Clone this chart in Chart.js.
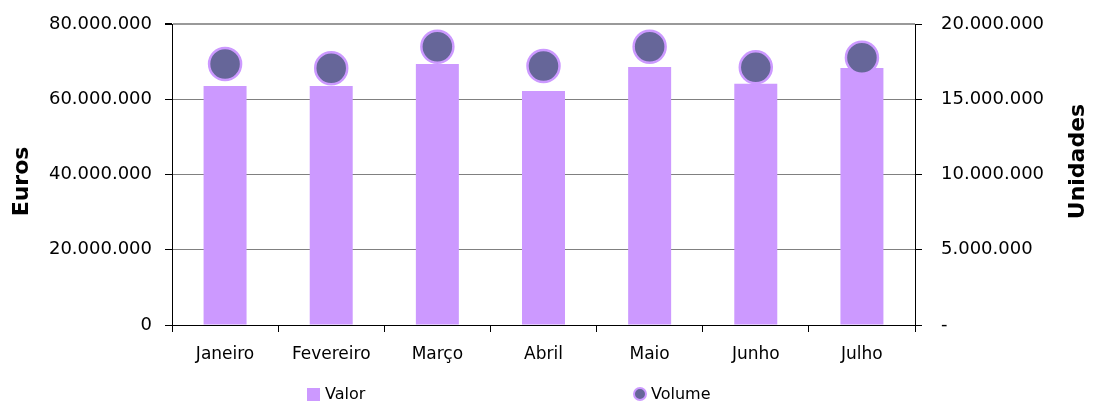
<!DOCTYPE html>
<html>
<head>
<meta charset="utf-8">
<script src="https://cdn.jsdelivr.net/npm/chart.js@4/dist/chart.umd.min.js"></script>
<style>
html, body { margin: 0; padding: 0; background: #fff; }
#c1 { display: block; }
</style>
</head>
<body>
<canvas id="c1" width="1093" height="403"></canvas>
<script>
let meses = ['Janeiro', 'Fevereiro', 'Março', 'Abril', 'Maio', 'Junho', 'Julho'];
let valor = [63500000, 63500000, 69400000, 62200000, 68600000, 64100000, 68300000];
let volume = [17340000, 17060000, 18490000, 17210000, 18490000, 17120000, 17760000];

let eurosMax = 80000000;
let eurosStep = 20000000;
let unidMax = 20000000;
let unidStep = 5000000;

let fonte = '"DejaVu Sans", sans-serif';
let lilas = '#CC99FF';
let roxo = '#666699';

function pontos(n) {
    return String(n).replace(/\B(?=(\d{3})+(?!\d))/g, '.');
}

// titulos dos eixos e legenda desenhados a mao
let extras = {
    id: 'extras',
    afterDraw(chart) {
        let ctx = chart.ctx;
        let a = chart.chartArea;
        ctx.save();
        ctx.fillStyle = '#000';
        ctx.font = 'bold 22px ' + fonte;
        ctx.textAlign = 'center';
        ctx.textBaseline = 'middle';

        ctx.save();
        ctx.translate(22, (a.top + a.bottom) / 2 + 7);
        ctx.rotate(-Math.PI / 2);
        ctx.fillText('Euros', 0, 0);
        ctx.restore();

        ctx.save();
        ctx.translate(1078, (a.top + a.bottom) / 2 - 13);
        ctx.rotate(-Math.PI / 2);
        ctx.fillText('Unidades', 0, 0);
        ctx.restore();

        // legenda
        ctx.font = '16px ' + fonte;
        ctx.textAlign = 'left';
        ctx.fillStyle = lilas;
        ctx.fillRect(307, 388, 13, 13);
        ctx.fillStyle = '#000';
        ctx.fillText('Valor', 325, 395);

        ctx.beginPath();
        ctx.arc(640, 394, 6, 0, Math.PI * 2);
        ctx.fillStyle = roxo;
        ctx.fill();
        ctx.lineWidth = 2;
        ctx.strokeStyle = lilas;
        ctx.stroke();
        ctx.fillStyle = '#000';
        ctx.fillText('Volume', 651, 395);
        ctx.restore();
    }
};

let c1 = document.querySelector('#c1');
let opts = {
    type: 'bar',
    data: {
        labels: meses,
        datasets: [
            {
                type: 'line',
                label: 'Volume',
                data: volume,
                yAxisID: 'y2',
                showLine: false,
                pointRadius: 16,
                pointHoverRadius: 16,
                pointBackgroundColor: roxo,
                pointBorderColor: lilas,
                pointBorderWidth: 2.5,
                order: 0,
            },
            {
                label: 'Valor',
                data: valor,
                yAxisID: 'y',
                backgroundColor: lilas,
                barPercentage: 0.405,
                categoryPercentage: 1,
                order: 1,
            },
        ],
    },
    options: {
        responsive: false,
        animation: false,
        devicePixelRatio: 1,
        layout: { padding: { top: 24, left: 0, right: 0, bottom: 0 } },
        plugins: {
            legend: { display: false },
            tooltip: { enabled: false },
        },
        scales: {
            x: {
                grid: { drawOnChartArea: false, tickLength: 7, color: '#000' },
                border: { color: '#000' },
                ticks: { color: '#000', font: { family: fonte, size: 17 }, padding: 12, maxRotation: 0 },
                afterFit: (s) => { s.height = 78; s.paddingLeft = 0; s.paddingRight = 0; },
            },
            y: {
                position: 'left',
                min: 0,
                max: eurosMax,
                grid: {
                    tickLength: 7,
                    tickColor: '#000',
                    color: (c) => c.tick && c.tick.value == 0 ? '#000' : (c.tick && c.tick.value == eurosMax ? '#999' : '#808080'),
                    lineWidth: (c) => c.tick && c.tick.value == eurosMax ? 2 : 1,
                },
                border: { color: '#000' },
                ticks: {
                    stepSize: eurosStep,
                    color: '#000',
                    font: { family: fonte, size: 18 },
                    padding: 13,
                    callback: (v) => pontos(v),
                },
                afterFit: (s) => { s.width = 172; s.paddingTop = 0; s.paddingBottom = 0; },
            },
            y2: {
                position: 'right',
                min: 0,
                max: unidMax,
                grid: { drawOnChartArea: false, tickLength: 7, color: '#000' },
                border: { color: '#000' },
                ticks: {
                    stepSize: unidStep,
                    color: '#000',
                    font: { family: fonte, size: 18 },
                    padding: 19,
                    callback: (v) => v == 0 ? '-' : pontos(v),
                },
                afterFit: (s) => { s.width = 178; s.paddingTop = 0; s.paddingBottom = 0; },
            },
        },
    },
    plugins: [extras],
};
let chart1 = new Chart(c1, opts);
</script>
</body>
</html>
